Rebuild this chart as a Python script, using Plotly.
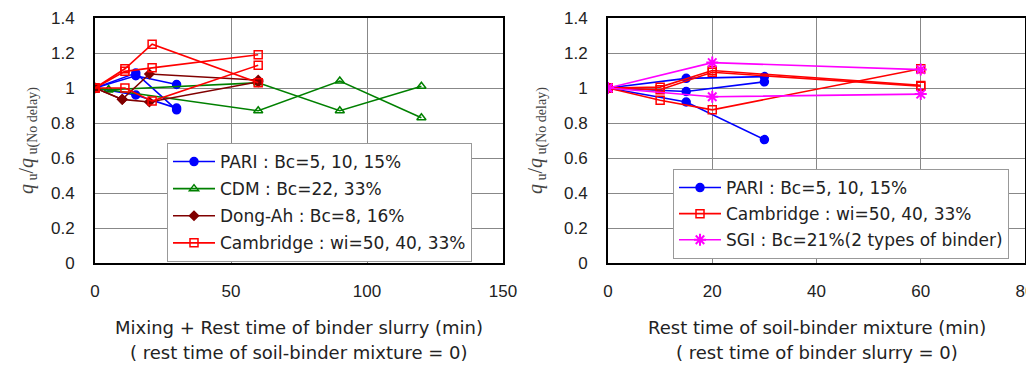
import plotly.graph_objects as go

# ---------------- data ----------------
# Left panel: Mixing + rest time of binder slurry (min)
pari_l_x = [0, 15, 30]
pari_l_y = [[1.0, 1.07, 1.02], [1.0, 1.085, 0.875], [1.0, 0.96, 0.885]]
cdm_x = [0, 5, 60, 90, 120]
cdm_y = [[1.0, 0.99, 1.03, 0.87, 1.01], [1.0, 0.99, 0.87, 1.04, 0.83]]
dong_x = [0, 10, 20, 60]
dong_y = [[1.0, 0.935, 1.08, 1.045], [1.0, 0.935, 0.92, 1.035]]
camb_l_x = [0, 11, 21, 60]
camb_l_y = [[1.0, 1.11, 1.25, 1.03], [1.0, 1.095, 1.115, 1.19], [1.0, 1.0, 0.925, 1.13]]

# Right panel: rest time of soil-binder mixture (min)
pari_r_x = [0, 15, 30]
pari_r_y = [[1.0, 1.055, 1.065], [1.0, 0.98, 1.035], [1.0, 0.92, 0.705]]
camb_r_x = [0, 10, 20, 60]
camb_r_y = [[1.0, 1.005, 1.10, 1.015], [1.0, 0.99, 1.09, 1.01], [1.0, 0.93, 0.875, 1.11]]
sgi_x = [0, 20, 60]
sgi_y = [[1.0, 1.145, 1.105], [1.0, 0.95, 0.965]]

legend_left = ["PARI : Bc=5, 10, 15%", "CDM : Bc=22, 33%", "Dong-Ah : Bc=8, 16%",
               "Cambridge : wi=50, 40, 33%"]
legend_right = ["PARI : Bc=5, 10, 15%", "Cambridge : wi=50, 40, 33%",
                "SGI : Bc=21%(2 types of binder)"]

x_title_left = ["Mixing + Rest time of binder slurry (min)", "( rest time of soil-binder mixture = 0)"]
x_title_right = ["Rest time of soil-binder mixture (min)", "( rest time of binder slurry = 0)"]
y_title = "<i>q</i><sub> u</sub>/<i>q</i><sub> u(No delay)</sub>"

# ---------------- styles ----------------
BLUE, GREEN, DRED, RED, MAG = "#0000FF", "#008000", "#800000", "#FF0000", "#FF00FF"
FONT = "Liberation Sans, Arial, sans-serif"
WFONT = "DejaVu Sans, Verdana, sans-serif"

fig = go.Figure()


def add_group(xs, ys_list, name, color, symbol, size, xa, ya, legend, mline=1.5):
    for i, ys in enumerate(ys_list):
        fig.add_trace(go.Scatter(
            x=xs, y=ys, mode="lines+markers", name=name,
            legendgroup=name + legend, showlegend=(i == 0), legend=legend,
            line=dict(color=color, width=1.6),
            marker=dict(symbol=symbol, size=size, color=color,
                        line=dict(color=color, width=mline)),
            xaxis=xa, yaxis=ya))


add_group(pari_l_x, pari_l_y, legend_left[0], BLUE, "circle", 8, "x", "y", "legend")
add_group(cdm_x, cdm_y, legend_left[1], GREEN, "triangle-up-open", 8, "x", "y", "legend")
add_group(dong_x, dong_y, legend_left[2], DRED, "diamond", 7, "x", "y", "legend")
add_group(camb_l_x, camb_l_y, legend_left[3], RED, "square-open", 8, "x", "y", "legend")

add_group(pari_r_x, pari_r_y, legend_right[0], BLUE, "circle", 8, "x2", "y2", "legend2")
add_group(camb_r_x, camb_r_y, legend_right[1], RED, "square-open", 8, "x2", "y2", "legend2")
add_group(sgi_x, sgi_y, legend_right[2], MAG, "asterisk-open", 10, "x2", "y2", "legend2", mline=2)

# page body has an 8px margin: figure coordinates are shifted by it
O = 8
W, H = 1034, 367 - O
L1, R1 = 95 - O, 503 - O
L2, R2 = 608 - O, 1025 - O
TOP, BOT = 18 - O, 263 - O

axis_common = dict(showline=True, mirror=True, linecolor="black", linewidth=2,
                   showgrid=True, gridcolor="#888888", gridwidth=1, zeroline=False,
                   automargin=False, ticks="",
                   tickfont=dict(family=FONT, size=17, color="#222222"))

fig.update_layout(
    width=W, height=H, margin=dict(l=0, r=0, t=0, b=0, autoexpand=False),
    paper_bgcolor="white", plot_bgcolor="white",
    xaxis=dict(domain=[L1 / W, R1 / W], range=[0, 150], dtick=50, anchor="y",
               ticklabelstandoff=12, **axis_common),
    yaxis=dict(domain=[1 - BOT / H, 1 - TOP / H], range=[0, 1.4], dtick=0.2, anchor="x",
               ticklabelstandoff=15, **axis_common),
    xaxis2=dict(domain=[L2 / W, R2 / W], range=[0, 80], dtick=20, anchor="y2",
                ticklabelstandoff=12, **axis_common),
    yaxis2=dict(domain=[1 - BOT / H, 1 - TOP / H], range=[0, 1.4], dtick=0.2, anchor="x2",
                ticklabelstandoff=15, **axis_common),
    legend=dict(x=(167 - O) / W, y=1 - (143 - O) / H, xanchor="left", yanchor="top",
                bgcolor="white", bordercolor="#999999", borderwidth=1, itemwidth=42,
                font=dict(family=WFONT, size=17, color="#222222"), tracegroupgap=2),
    legend2=dict(x=(673 - O) / W, y=1 - (169 - O) / H, xanchor="left", yanchor="top",
                 bgcolor="white", bordercolor="#999999", borderwidth=1, itemwidth=42,
                 font=dict(family=WFONT, size=17, color="#222222"), tracegroupgap=1),
)

ann = []
for cx, lines in (((L1 + R1) / 2, x_title_left), ((L2 + R2) / 2, x_title_right)):
    for j, t in enumerate(lines):
        ann.append(dict(text=t, x=cx / W, y=1 - (327 - O + 25 * j) / H, xref="paper",
                        yref="paper", xanchor="center", yanchor="middle", showarrow=False,
                        font=dict(family=WFONT, size=18, color="#222222")))
for cx in (28 - O, 537 - O):
    ann.append(dict(text=y_title, x=cx / W, y=1 - (141 - O) / H, xref="paper", yref="paper",
                    xanchor="center", yanchor="middle", showarrow=False, textangle=-90,
                    font=dict(family="Liberation Serif, Times New Roman, serif", size=20,
                              color="#444444")))
fig.update_layout(annotations=ann)

fig.write_html("out.html")
